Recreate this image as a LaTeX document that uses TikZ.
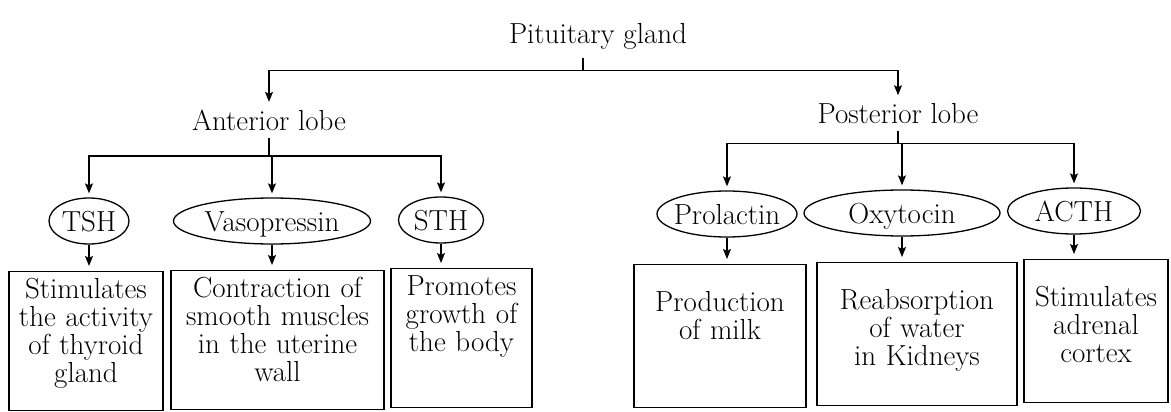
\documentclass[tikz,border=0pt]{standalone}
\usepackage{tikz}
\usetikzlibrary{shapes.geometric, arrows.meta}
\tikzset{
->, % every connector ends in an arrow
>={Stealth[length=10pt, width=8pt, inset=2pt]}, % small filled arrow heads
x=1pt, y=-1pt, % the picture is measured in points, going down
every node/.style={font=\fontsize{29}{28}\selectfont}, % one text size for all labels
lobe/.style={inner xsep=2pt, inner ysep=7pt}, % plain text labels
hormone/.style={ellipse, draw, inner sep=0pt, minimum height=46pt, text height=20pt, text depth=0pt,
    execute at begin node={\hbox to 0pt\bgroup\hss}, execute at end node={\hss\egroup}}, % the hormones
effect/.style={draw, anchor=north, align=center, inner xsep=1pt, inner ysep=3pt}, % boxes with the effects
antfx/.style={effect, text height=24pt, text depth=109pt}, % anterior lobe boxes
postfx/.style={effect, text height=44pt, text depth=93pt}, % posterior lobe boxes
}

\begin{document}
\begin{tikzpicture}[line width=1.3pt]
            \useasboundingbox (0,0) rectangle (1171,412);
            \node[lobe, anchor=base] (pit) at (598,44) {Pituitary gland};
            \node[lobe, anchor=base] (ant) at (269,130) {Anterior lobe};
            \node[lobe, anchor=base] (post) at (898,123) {Posterior lobe};

            \node[hormone, minimum width=80pt] (tsh) at (89,221) {TSH};
            \node[hormone, minimum width=197pt] (vaso) at (272,221) {Vasopressin};
            \node[hormone, minimum width=85pt] (sth) at (441,220) {STH};
            \node[hormone, minimum width=140pt] (prol) at (727,214) {Prolactin};
            \node[hormone, minimum width=196pt] (oxy) at (902,213) {Oxytocin};
            \node[hormone, minimum width=133pt] (acth) at (1074,211) {ACTH};

            \node[antfx, text width=152pt] (fx-tsh) at (86,271) {Stimulates\\the activity\\of thyroid\\gland};
            \node[antfx, text width=211pt] (fx-vaso) at (277.5,270) {Contraction of\\smooth muscles\\in the uterine\\wall};
            \node[antfx, text width=139pt] (fx-sth) at (461.5,268) {Promotes\\growth of\\the body};
            \node[postfx, text width=170pt] (fx-prol) at (720,264) {Production\\of milk};
            \node[postfx, text width=198pt] (fx-oxy) at (917,262) {Reabsorption\\of water\\in Kidneys};
            \node[postfx, text width=142pt] (fx-acth) at (1096,259) {Stimulates\\adrenal\\cortex};

            \draw ([xshift=-15pt]pit.south) -- ++(0,13) -| (ant.north);
            \draw ([xshift=-15pt]pit.south) -- ++(0,13) -| (post.north);
            \foreach \h in {tsh,vaso,sth}
                \draw[shorten >=4pt] (ant.south) -- ++(0,18) -| (\h.north);
            \foreach \h in {prol,oxy,acth}
                \draw[shorten >=4pt] (post.south) -- ++(0,12.5) -| (\h.north);
            \foreach \h in {tsh,vaso,sth,prol,oxy,acth}
                \draw[shorten >=5pt] (\h) -- (\h |- fx-\h.north);
        \end{tikzpicture}
\end{document}
